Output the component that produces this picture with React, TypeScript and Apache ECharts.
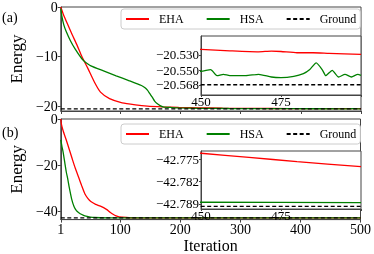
import React, { useEffect, useRef } from "react";
import * as echarts from "echarts";

// ---------- data ----------
const xTicks = [1, 100, 200, 300, 400, 500];
const yTicksA = [0, -10, -20];
const yTicksB = [0, -20, -40];
const insetXTicks = [450, 475];
const insetXTickMarks = [450, 475, 500];
const insetYTicksA = [-20.53, -20.55, -20.568];
const insetYTicksB = [-42.775, -42.782, -42.789];

const groundA = -20.568;
const groundB = -42.7898;

const ehaA: [number, number][] = [
  [1, 0], [5, -1.4], [12, -3.4], [20, -5.6], [28, -7.7], [36, -10.0], [46, -12.4],
  [57, -15.2], [67, -17.2], [82, -18.5], [103, -19.35], [125, -19.75], [145, -20.0],
  [170, -20.15], [197, -20.26], [230, -20.36], [270, -20.43], [320, -20.48], [380, -20.51],
  [450, -20.523], [459, -20.5248], [468, -20.5261], [472, -20.5252], [475, -20.5257],
  [480, -20.5273], [485, -20.5273], [490, -20.5281], [500, -20.5294],
];

const hsaA: [number, number][] = [
  [1, -0.3], [3, -2.0], [6, -3.6], [10, -4.95], [17, -6.8], [25, -8.5], [36, -10.45],
  [40, -10.95], [51, -11.9], [72, -12.9], [93, -13.9], [114, -14.85], [135, -15.85],
  [141, -16.3], [145, -16.8], [149, -17.5], [153, -18.2], [157, -19.0], [161, -19.5],
  [166, -19.9], [171, -20.15], [185, -20.3], [197, -20.38], [230, -20.45], [280, -20.5],
  [350, -20.53], [420, -20.545],
  [450, -20.5508], [453, -20.5487], [455, -20.5564], [457, -20.5547], [459, -20.5564],
  [464, -20.5564], [468, -20.5547], [472, -20.5581], [475, -20.5589], [479, -20.5573],
  [482, -20.5538], [484, -20.5485], [486, -20.5402], [488, -20.5496], [489, -20.5564],
  [491, -20.5496], [493, -20.5581], [495, -20.5547], [497, -20.5581], [499, -20.5547],
  [500, -20.556],
];

const ehaB: [number, number][] = [
  [1, 0], [2, -2.2], [5, -5.2], [10, -9.0], [15, -13.1], [20, -17.2], [25, -21.2],
  [31, -25.4], [36, -29.0], [41, -32.3], [46, -34.3], [51, -35.7], [59, -36.9],
  [67, -37.7], [77, -39.1], [83, -40.3], [88, -41.2], [93, -41.9], [98, -42.3],
  [110, -42.6], [120, -42.7], [150, -42.74], [200, -42.752], [300, -42.761],
  [400, -42.769], [450, -42.7732], [465, -42.7745], [480, -42.7758], [500, -42.7774],
];

const hsaB: [number, number][] = [
  [1, -9.0], [3, -12.0], [5, -14.5], [8, -19.5], [10, -22.7], [13, -26.5], [15, -29.5],
  [19, -34.5], [23, -37.8], [27, -39.6], [31, -40.5], [36, -41.3], [41, -41.9],
  [50, -42.4], [57, -42.6], [80, -42.75], [120, -42.78], [200, -42.786], [300, -42.788],
  [450, -42.7885], [500, -42.7886],
];

// ---------- styles ----------
const FONT = "Liberation Serif";
const AXIS = "#444";
const RED = "#ff0000";
const GREEN = "#008000";
const fmt = (d: number) => (v: number) => {
  const s = d > 0 ? v.toFixed(d) : String(Math.round(v));
  return s.replace("-", "\u2212");
};

function App() {
  const ref = useRef<HTMLDivElement>(null);
  useEffect(() => {
    if (!ref.current) return;
    const chart = echarts.init(ref.current, undefined, { renderer: "svg" });
    const label = (size: number, extra: any = {}) => ({
      fontFamily: FONT, fontSize: size, color: "#000", ...extra,
    });
    const gridBase = { show: true, borderColor: AXIS, borderWidth: 1, backgroundColor: "#fff" };
    const mainX = (gi: number, showLabels: boolean, name: string) => ({
      type: "value", gridIndex: gi, min: 1, max: 500,
      axisLine: { show: true, onZero: false, lineStyle: { color: AXIS } },
      axisTick: { show: true, length: 3, customValues: xTicks, lineStyle: { color: AXIS } },
      axisLabel: { show: showLabels, customValues: xTicks, margin: 3, ...label(14, { lineHeight: 13 }) },
      splitLine: { show: false },
      name, nameLocation: "middle", nameGap: 15, nameTextStyle: label(16),
    });
    const mainY = (gi: number, min: number, ticks: number[]) => ({
      type: "value", gridIndex: gi, min, max: 0,
      axisLine: { show: true, onZero: false, lineStyle: { color: AXIS } },
      axisTick: { show: true, length: 3, customValues: ticks, lineStyle: { color: AXIS } },
      axisLabel: { customValues: ticks, margin: 3, formatter: fmt(0), ...label(14, { lineHeight: 11 }) },
      splitLine: { show: false },
      name: "Energy", nameLocation: "middle", nameGap: 33, nameTextStyle: label(17),
    });
    const insetX = (gi: number) => ({
      type: "value", gridIndex: gi, min: 450, max: 500, z: 6,
      axisLine: { show: true, onZero: false, lineStyle: { color: AXIS } },
      axisTick: { show: true, length: 2, customValues: insetXTickMarks, lineStyle: { color: AXIS } },
      axisLabel: { customValues: insetXTicks, margin: 0, ...label(13) },
      splitLine: { show: false },
    });
    const insetY = (gi: number, min: number, max: number, ticks: number[]) => ({
      type: "value", gridIndex: gi, min, max, z: 6,
      axisLine: { show: true, onZero: false, lineStyle: { color: AXIS } },
      axisTick: { show: true, length: 2, customValues: ticks, lineStyle: { color: AXIS } },
      axisLabel: { customValues: ticks, margin: 2, formatter: fmt(3), ...label(13) },
      splitLine: { show: false },
    });
    const line = (name: string, data: [number, number][], color: string, gi: number, z: number, dashed = false) => ({
      type: "line", name, data, xAxisIndex: gi, yAxisIndex: gi,
      symbol: "none", showSymbol: false, smooth: dashed ? false : 0.2, z,
      lineStyle: { color, width: 1.3, type: dashed ? [4, 2.5] : "solid" },
      itemStyle: { color },
      clip: true,
    });
    const gLine = (g: number): [number, number][] => [[1, g], [500, g]];
    const legend = (top: number) => ({
      left: 121, top, orient: "horizontal", itemWidth: 23, itemHeight: 12, itemGap: 22,
      padding: [4, 4, 4, 4],
      backgroundColor: "rgba(255,255,255,0.85)", borderColor: "#ccc", borderWidth: 1, borderRadius: 3,
      textStyle: { ...label(12), padding: [0, 0, 0, 5] },
      itemStyle: { opacity: 0 },
      data: ["EHA", "HSA", "Ground"],
      selectedMode: false, z: 20,
    });

    chart.setOption({
      animation: false,
      grid: [
        { ...gridBase, left: 41, top: 5, width: 320, height: 106, z: 0 },
        { ...gridBase, left: 201, top: 36, width: 160, height: 59, z: 5 },
        { ...gridBase, left: 41, top: 119, width: 320, height: 105.5, z: 0 },
        { ...gridBase, left: 201, top: 151, width: 160, height: 58, z: 5 },
      ],
      xAxis: [mainX(0, false, ""), insetX(1), mainX(2, true, "Iteration"), insetX(3)],
      yAxis: [
        mainY(0, -21, yTicksA),
        insetY(1, -20.581, -20.506, insetYTicksA),
        mainY(2, -43.5, yTicksB),
        insetY(3, -42.7906, -42.7725, insetYTicksB),
      ],
      legend: [legend(9), legend(124)],
      graphic: [
        { type: "text", style: { x: 2, y: 17, text: "(a)", fontFamily: FONT, fontSize: 14, fill: "#000", verticalAlign: "middle" } },
        { type: "text", style: { x: 2, y: 132, text: "(b)", fontFamily: FONT, fontSize: 14, fill: "#000", verticalAlign: "middle" } },
      ],
      series: [
        line("EHA", ehaA, RED, 0, 2),
        line("HSA", hsaA, GREEN, 0, 2),
        line("Ground", gLine(groundA), "#000", 0, 3, true),
        line("EHA", ehaA, RED, 1, 7),
        line("HSA", hsaA, GREEN, 1, 7),
        line("Ground", gLine(groundA), "#000", 1, 8, true),
        line("EHA", ehaB, RED, 2, 2),
        line("HSA", hsaB, GREEN, 2, 2),
        line("Ground", gLine(groundB), "#000", 2, 3, true),
        line("EHA", ehaB, RED, 3, 7),
        line("HSA", hsaB, GREEN, 3, 7),
        line("Ground", gLine(groundB), "#000", 3, 8, true),
      ],
    });
    return () => chart.dispose();
  }, []);
  return <div ref={ref} style={{ position: "fixed", left: 0, top: 0, width: 374, height: 254 }} />;
}

export default App;
